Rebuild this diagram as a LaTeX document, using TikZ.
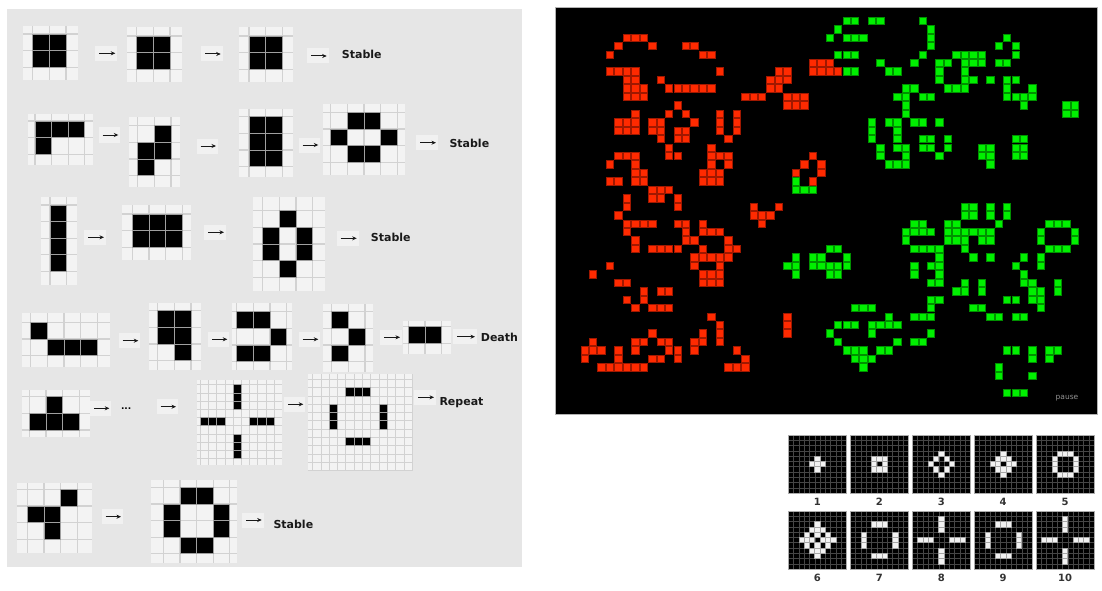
\documentclass[tikz,border=0pt]{standalone}
\usepackage{fontspec}
\setmainfont{DejaVu Sans}
\usetikzlibrary{arrows.meta}
\definecolor{panelbg}{HTML}{E6E6E6}
\definecolor{cellbg}{HTML}{F3F3F3}
\definecolor{gridln}{HTML}{D2D2D2}
\definecolor{patchbg}{HTML}{F1F1F1}
\definecolor{lred}{HTML}{FF2A00}
\definecolor{lredb}{HTML}{A01800}
\definecolor{lgreen}{HTML}{00F000}
\definecolor{lgreenb}{HTML}{009000}
\def\gp{16.6}
\def\glw{1.2}
% #1 x0, #2 y0, #3 cols, #4 rows, #5-#8 margins l t r b, #9 live cells
\newcommand\lifegrid[9]{%
  \fill[cellbg] ({#1-#5},{#2-#6}) rectangle ({#1+#3*\gp+#7},{#2+#4*\gp+#8});
  \foreach \ii in {0,...,#3}
    \draw[gridln, line width=\glw] ({#1+\ii*\gp},{#2-#6}) -- ({#1+\ii*\gp},{#2+#4*\gp+#8});
  \foreach \jj in {0,...,#4}
    \draw[gridln, line width=\glw] ({#1-#5},{#2+\jj*\gp}) -- ({#1+#3*\gp+#7},{#2+\jj*\gp});
  \foreach \cx/\cy in {#9}
    \filldraw[fill=black, draw=gray!75, line width=0.8] ({#1+\cx*\gp},{#2+\cy*\gp}) rectangle ++(\gp,\gp);
}
% #1 name, #2 x start, #3 x end, #4 y
\newcommand\lifearrow[4]{%
  \fill[patchbg] ({#2-4},{#4-7.5}) rectangle ({#3+2},{#4+7.5});
  \coordinate (#1a) at (#2,#4);
  \coordinate (#1b) at (#3,#4);
  \draw[larrow] (#1a) -- (#1b);
}
% #1 x, #2 y, #3 live list, #4 label
\newcommand\lifethumb[4]{%
  \fill[black] (#1,#2) rectangle ++(58,58);
  \foreach \ii in {1,...,10} {
    \draw[thgrid] ({#1+\ii*58/11},#2) -- ++(0,58);
    \draw[thgrid] (#1,{#2+\ii*58/11}) -- ++(58,0);
  }
  \foreach \cx/\cy in {#3}
    \filldraw[fill=white!95!black, draw=gray!70, line width=0.4] ({#1+(5+\cx)*58/11},{#2+(5+\cy)*58/11}) rectangle ++(58/11,58/11);
  \draw[gray!65, line width=0.9] (#1,#2) rectangle ++(58,58);
  \node[thlbl] (lab#4) at ({#1+29},{#2+66.5}) {#4};
}
\begin{document}
\begin{tikzpicture}[x=1pt,y=-1pt,
  lbl/.style={font=\fontsize{11}{13}\selectfont\bfseries, anchor=west, inner sep=0pt, text=black!90},
  thlbl/.style={font=\fontsize{10}{11}\selectfont\bfseries, inner sep=0pt, text=black!80},
  larrow/.style={draw=black!90, line width=1, -{Stealth[length=4.5pt,width=4pt]}},
  thgrid/.style={draw=gray!55!black, line width=0.3},
  redcell/.style={fill=lred, draw=lredb, line width=0.8},
  greencell/.style={fill=lgreen, draw=lgreenb, line width=0.8}]
\useasboundingbox (0,0) rectangle (1102,591);
\fill[white] (0,0) rectangle (1102,591);

% ---------- left panel ----------
\fill[panelbg] (7,9) rectangle (522,567);

% row 1
\lifegrid{32.7}{34}{2}{2}{9.4}{8.3}{12.3}{12.7}{0/0,1/0,0/1,1/1}
\lifearrow{a1}{99.3}{115.3}{53.3}
\lifegrid{136.7}{36}{2}{2}{9.3}{8.7}{11.7}{13}{0/0,1/0,0/1,1/1}
\lifearrow{a2}{205}{220.7}{54}
\lifegrid{249}{36}{2}{2}{9.7}{8.7}{11}{13}{0/0,1/0,0/1,1/1}
\lifearrow{a3}{311}{326.7}{56}
\node[lbl] (t1) at (341.7,54) {Stable};

% row 2
\lifegrid{35}{121}{3}{2}{6.7}{7}{8.3}{10.7}{0/0,1/0,2/0,0/1}
\lifearrow{b1}{102.7}{118.3}{135}
\lifegrid{137.7}{125.7}{2}{3}{8.7}{8.3}{9}{11}{1/0,0/1,1/1,0/2}
\lifearrow{b2}{200.7}{216}{146}
\lifegrid{249}{116.7}{2}{3}{9.7}{7.7}{11}{10}{0/0,1/0,0/1,1/1,0/2,1/2}
\lifearrow{b3}{302.7}{318.3}{145}
\lifegrid{330.7}{112.3}{4}{3}{7.3}{8.3}{7.7}{13.3}{1/0,2/0,0/1,3/1,1/2,2/2}
\lifearrow{b4}{420}{436}{142.7}
\node[lbl] (t2) at (449.3,143) {Stable};

% row 3
\lifegrid{50}{205}{1}{4}{9.3}{7.7}{10}{13.3}{0/0,0/1,0/2,0/3}
\lifearrow{c1}{88.3}{104}{237.3}
\lifegrid{132.3}{214}{3}{2}{10.7}{9}{8.7}{12.7}{0/0,1/0,2/0,0/1,1/1,2/1}
\lifearrow{c2}{208.3}{224}{232.3}
\lifegrid{262.7}{210.7}{3}{4}{9.3}{13.3}{12.3}{14.3}{1/0,0/1,2/1,0/2,2/2,1/3}
\lifearrow{c3}{340.7}{356.7}{238.3}
\node[lbl] (t3) at (370.7,237) {Stable};

% row 4
\lifegrid{30.7}{322.3}{4}{2}{9}{9}{12.7}{11}{0/0,1/1,2/1,3/1}
\lifearrow{d1}{122.7}{138.3}{340.7}
\lifegrid{157.7}{310.7}{2}{3}{8.3}{7.3}{10}{9.5}{0/0,1/0,0/1,1/1,1/2}
\lifearrow{d2}{212.3}{227.3}{339.3}
\lifegrid{236.7}{311.7}{3}{3}{5}{8.3}{5}{8.5}{0/0,1/0,2/1,0/2,1/2}
\lifearrow{d3}{302.7}{318.3}{339.3}
\lifegrid{331.7}{311.7}{2}{3}{8.3}{7.7}{7.7}{10}{0/0,1/1,0/2}
\lifearrow{d4}{384}{400}{337.3}
\lifegrid{408.3}{326.7}{2}{1}{5}{6}{9.3}{10.7}{0/0,1/0}
\lifearrow{d5}{457.3}{475}{336.7}
\node[lbl] (t4) at (480.7,337) {Death};

% row 5
\lifegrid{29.3}{396.7}{3}{2}{7.7}{6.7}{10.7}{6.7}{1/0,0/1,1/1,2/1}
\lifearrow{e1}{94}{109.3}{408.3}
\node[font=\fontsize{9}{9}\selectfont\bfseries, inner sep=0pt] (dots) at (126.2,408.5) {...};
\lifearrow{e2}{160.7}{176}{406.7}
\def\gp{8.2}\def\glw{0.9}
\lifegrid{200.4}{384.8}{9}{9}{3.7}{4.8}{7.5}{6.4}{0/4,1/4,2/4,6/4,7/4,8/4,4/0,4/1,4/2,4/6,4/7,4/8}
\lifearrow{e3}{288.3}{303.3}{404.3}
\def\gp{8.3}
\lifegrid{312.65}{379.35}{12}{11}{5}{5}{0.45}{0.35}{4/1,5/1,6/1,4/7,5/7,6/7,2/3,2/4,2/5,8/3,8/4,8/5}
\lifearrow{e4}{418.3}{434}{397.3}
\node[lbl] (t5) at (439.3,402.5) {Repeat};

% row 6
\def\gp{16.6}\def\glw{1.2}
\lifegrid{27.3}{489.3}{3}{3}{10.7}{6}{15.3}{14}{2/0,0/1,1/1,1/2}
\lifearrow{f1}{105.7}{121}{516.7}
\lifegrid{163.3}{487.3}{4}{4}{12.7}{7.3}{7.3}{9.6}{1/0,2/0,0/1,3/1,0/2,3/2,1/3,2/3}
\lifearrow{f2}{246}{261.7}{520}
\node[lbl] (t6) at (273.3,524.5) {Stable};

% ---------- simulation panel ----------
\fill[black] (555,8) rectangle (1097,414);
\foreach \cy/\cs in {3/{8,9,10},4/{7,11,15,16},5/{6,17,18},6/{30,31,32},
  7/{6,7,8,9,19,26,27,30,31,32,33},8/{8,9,12,25,26,27},
  9/{8,9,10,13,14,15,16,17,18,25,26},10/{8,9,10,22,23,24,27,28,29},
  11/{14,27,28,29},12/{9,13,15,19,21},13/{7,8,9,11,12,16,19,21},
  14/{7,8,9,11,12,14,15,19,21},15/{12,14,15,20},16/{13,18},
  17/{7,8,9,13,14,18,19,20,30},18/{6,9,18,20,29,31},19/{9,10,17,18,19,28,31},
  20/{6,7,9,10,17,18,19,30},21/{11,12,13},22/{8,11,12,14},23/{8,14,23,26},
  24/{7,23,24,25},25/{8,9,10,11,14,15,17,24},26/{8,15,17,18,19},
  27/{9,15,16,20},28/{9,11,12,13,14,17,20,21},29/{16,17,18,19,20},
  30/{6,16,19},31/{4,17,18,19},32/{7,8,17,18,19},33/{10,12,13},34/{8,10},
  35/{9,11,12,13},36/{18,27},37/{19,27},38/{11,17,19,27},
  39/{4,9,10,12,13,16,17,19},40/{3,4,5,7,9,13,14,16,21},41/{3,7,11,12,14,22},
  42/{5,6,7,8,9,10,20,21,22}}
  \foreach \cx in \cs
    \filldraw[redcell] ({559.3+8.45*\cx-3.7},{12.4+8.45*\cy-3.7}) rectangle ++(7.4,7.4);
\foreach \cy/\cs in {1/{34,35,37,38,43},2/{33,44},3/{32,34,35,36,44,53},4/{44,52,54},
  5/{33,34,35,43,47,48,49,50,54},6/{38,42,45,46,48,49,50,52,53},
  7/{34,35,39,40,45,48},8/{45,48,49,51,53,54},9/{41,42,46,47,48,53,56},
  10/{40,41,43,44,53,54,55,56},11/{41,55,60,61},12/{41,60,61},
  13/{37,39,40,42,43,45},14/{37,40},15/{37,40,43,44,46,54,55},
  16/{38,40,41,43,44,46,50,51,54,55},17/{38,41,45,50,51,54,55},18/{39,40,41,51},
  20/{28},21/{28,29,30},23/{48,49,51,53},24/{48,49,51,53},
  25/{42,43,46,47,52,58,59,60},26/{41,42,43,44,46,47,48,49,50,51,57,61},
  27/{41,46,47,48,50,51,57,61},28/{32,33,42,43,44,45,48,58,59,60},
  29/{28,30,31,34,45,49,51,55,57},30/{27,28,30,31,32,33,34,42,44,45,54,57},
  31/{28,32,33,42,45,55},32/{44,45,48,50,55,56,59},33/{47,48,50,56,57,59},
  34/{44,45,53,54,56,57},35/{35,36,37,44,49,50,57},36/{39,42,43,44,51,52,54,55},
  37/{33,34,35,37,38,39,40},38/{32,37,44},39/{33,40,42,43},
  40/{34,35,36,38,39,53,54,56,58,59},41/{35,36,37,56,58},42/{36,52},43/{52,56},
  45/{53,54,55}}
  \foreach \cx in \cs
    \filldraw[greencell] ({559.3+8.45*\cx-3.7},{12.4+8.45*\cy-3.7}) rectangle ++(7.4,7.4);
\draw[gray!60, line width=1] (555,8) rectangle (1097,414);
\node[font=\fontsize{7.5}{8}\selectfont, text=gray!85, inner sep=0pt] (pause) at (1067,398) {pause};

% ---------- thumbnails ----------
\lifethumb{788.3}{435}{0/0,1/0,-1/0,0/1,0/-1}{1}
\lifethumb{850.3}{435}{-1/-1,0/-1,1/-1,-1/0,1/0,-1/1,0/1,1/1}{2}
\lifethumb{912.3}{435}{-1/-1,1/-1,-1/1,1/1,2/0,-2/0,0/2,0/-2}{3}
\lifethumb{974.2}{435}{-1/-1,1/-1,-1/1,1/1,2/0,-2/0,0/2,0/-2,1/0,-1/0,0/1,0/-1}{4}
\lifethumb{1036}{435}{-2/-1,-2/0,-2/1,2/-1,2/0,2/1,-1/-2,0/-2,1/-2,-1/2,0/2,1/2}{5}
\lifethumb{788.3}{511}{-2/-1,-2/0,-2/1,2/-1,2/0,2/1,-1/-2,0/-2,1/-2,-1/2,0/2,1/2,3/0,-3/0,0/3,0/-3,1/0,-1/0,0/1,0/-1}{6}
\lifethumb{850.3}{511}{-3/-1,-3/0,-3/1,3/-1,3/0,3/1,-1/-3,0/-3,1/-3,-1/3,0/3,1/3}{7}
\lifethumb{912.3}{511}{2/0,3/0,4/0,-2/0,-3/0,-4/0,0/2,0/3,0/4,0/-2,0/-3,0/-4}{8}
\lifethumb{974.2}{511}{-3/-1,-3/0,-3/1,3/-1,3/0,3/1,-1/-3,0/-3,1/-3,-1/3,0/3,1/3}{9}
\lifethumb{1036}{511}{2/0,3/0,4/0,-2/0,-3/0,-4/0,0/2,0/3,0/4,0/-2,0/-3,0/-4}{10}
\end{tikzpicture}
\end{document}
